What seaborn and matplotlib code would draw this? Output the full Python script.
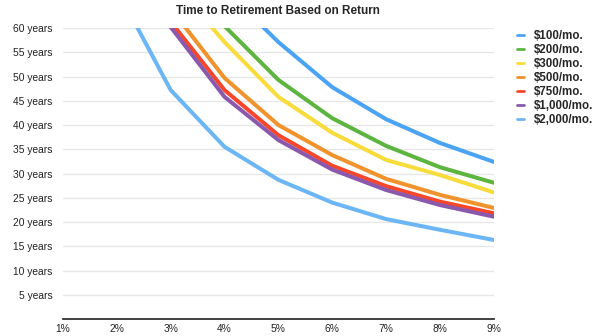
import numpy as np
import pandas as pd
import matplotlib
matplotlib.use("Agg")
import matplotlib.pyplot as plt
import seaborn as sns

# -----------------------------
# Data
# -----------------------------
returns = [1, 2, 3, 4, 5, 6, 7, 8, 9]   # annual return, %
plans = ["$100/mo.", "$200/mo.", "$300/mo.", "$500/mo.", "$750/mo.", "$1,000/mo.", "$2,000/mo."]

# years to retirement (values above 60 run off the top of the chart)
yrs_100 = [95, 88, 80, 68, 57.1, 47.8, 41.2, 36.3, 32.4]
yrs_200 = [85, 76, 68, 60.4, 49.3, 41.4, 35.7, 31.3, 28.1]
yrs_300 = [82, 76, 70, 57.1, 45.8, 38.4, 32.8, 29.7, 26.1]
yrs_500 = [80, 72, 64, 49.7, 40.0, 33.8, 28.9, 25.6, 22.9]
yrs_750 = [78, 70, 61.3, 47.2, 37.9, 31.6, 27.4, 24.2, 21.8]
yrs_1000 = [76, 68, 60.2, 45.8, 36.9, 30.8, 26.6, 23.5, 21.1]
yrs_2000 = [80, 68, 47.2, 35.5, 28.7, 24.0, 20.6, 18.4, 16.3]

colors = ["#4ba3f4", "#5db540", "#f7dc3c", "#f0932d", "#f7462a", "#8a59ad", "#6cb6f5"]

series = [yrs_100, yrs_200, yrs_300, yrs_500, yrs_750, yrs_1000, yrs_2000]
df = pd.DataFrame({
    "ret": np.tile(returns, len(plans)),
    "years": np.concatenate(series),
    "plan": np.repeat(plans, len(returns)),
})

# -----------------------------
# Plot
# -----------------------------
sns.set_style("white")
plt.rcParams["font.family"] = ["Liberation Sans", "DejaVu Sans"]

fig = plt.figure(figsize=(6, 3.36), dpi=100)
ax = fig.add_axes([0.105, 0.0506, 0.718, 0.866])

sns.lineplot(data=df, x="ret", y="years", hue="plan", hue_order=plans,
             palette=colors, linewidth=2.9, ax=ax, legend=True)

ax.set_xlim(1, 9)
ax.set_ylim(0, 60)
ax.set_xticks(returns)
ax.set_xticklabels([f"{r}%" for r in returns])
yt = list(range(5, 61, 5))
ax.set_yticks(yt)
ax.set_yticklabels([f"{v} years" for v in yt])
ax.set_xlabel("")
ax.set_ylabel("")

ax.yaxis.grid(True, color="#e6e6e6", linewidth=0.9)
ax.xaxis.grid(False)
for s in ["top", "right", "left"]:
    ax.spines[s].set_visible(False)
ax.spines["bottom"].set_color("#333333")
ax.spines["bottom"].set_linewidth(1.3)
ax.tick_params(axis="y", length=0, pad=7.5, labelsize=7.4, labelcolor="#222222")
ax.tick_params(axis="x", length=0, pad=3.5, labelsize=7.4, labelcolor="#222222")

ax.set_title("Time to Retirement Based on Return", fontsize=8.5, fontweight="bold", pad=10)

leg = ax.legend(loc="upper left", bbox_to_anchor=(1.03, 1.03), frameon=False,
                handlelength=0.6, handletextpad=0.85, labelspacing=0.18,
                prop={"size": 8.3, "weight": "bold"})
for h in leg.get_lines():
    h.set_linewidth(2.0)

fig.savefig("out.png", dpi=100)
